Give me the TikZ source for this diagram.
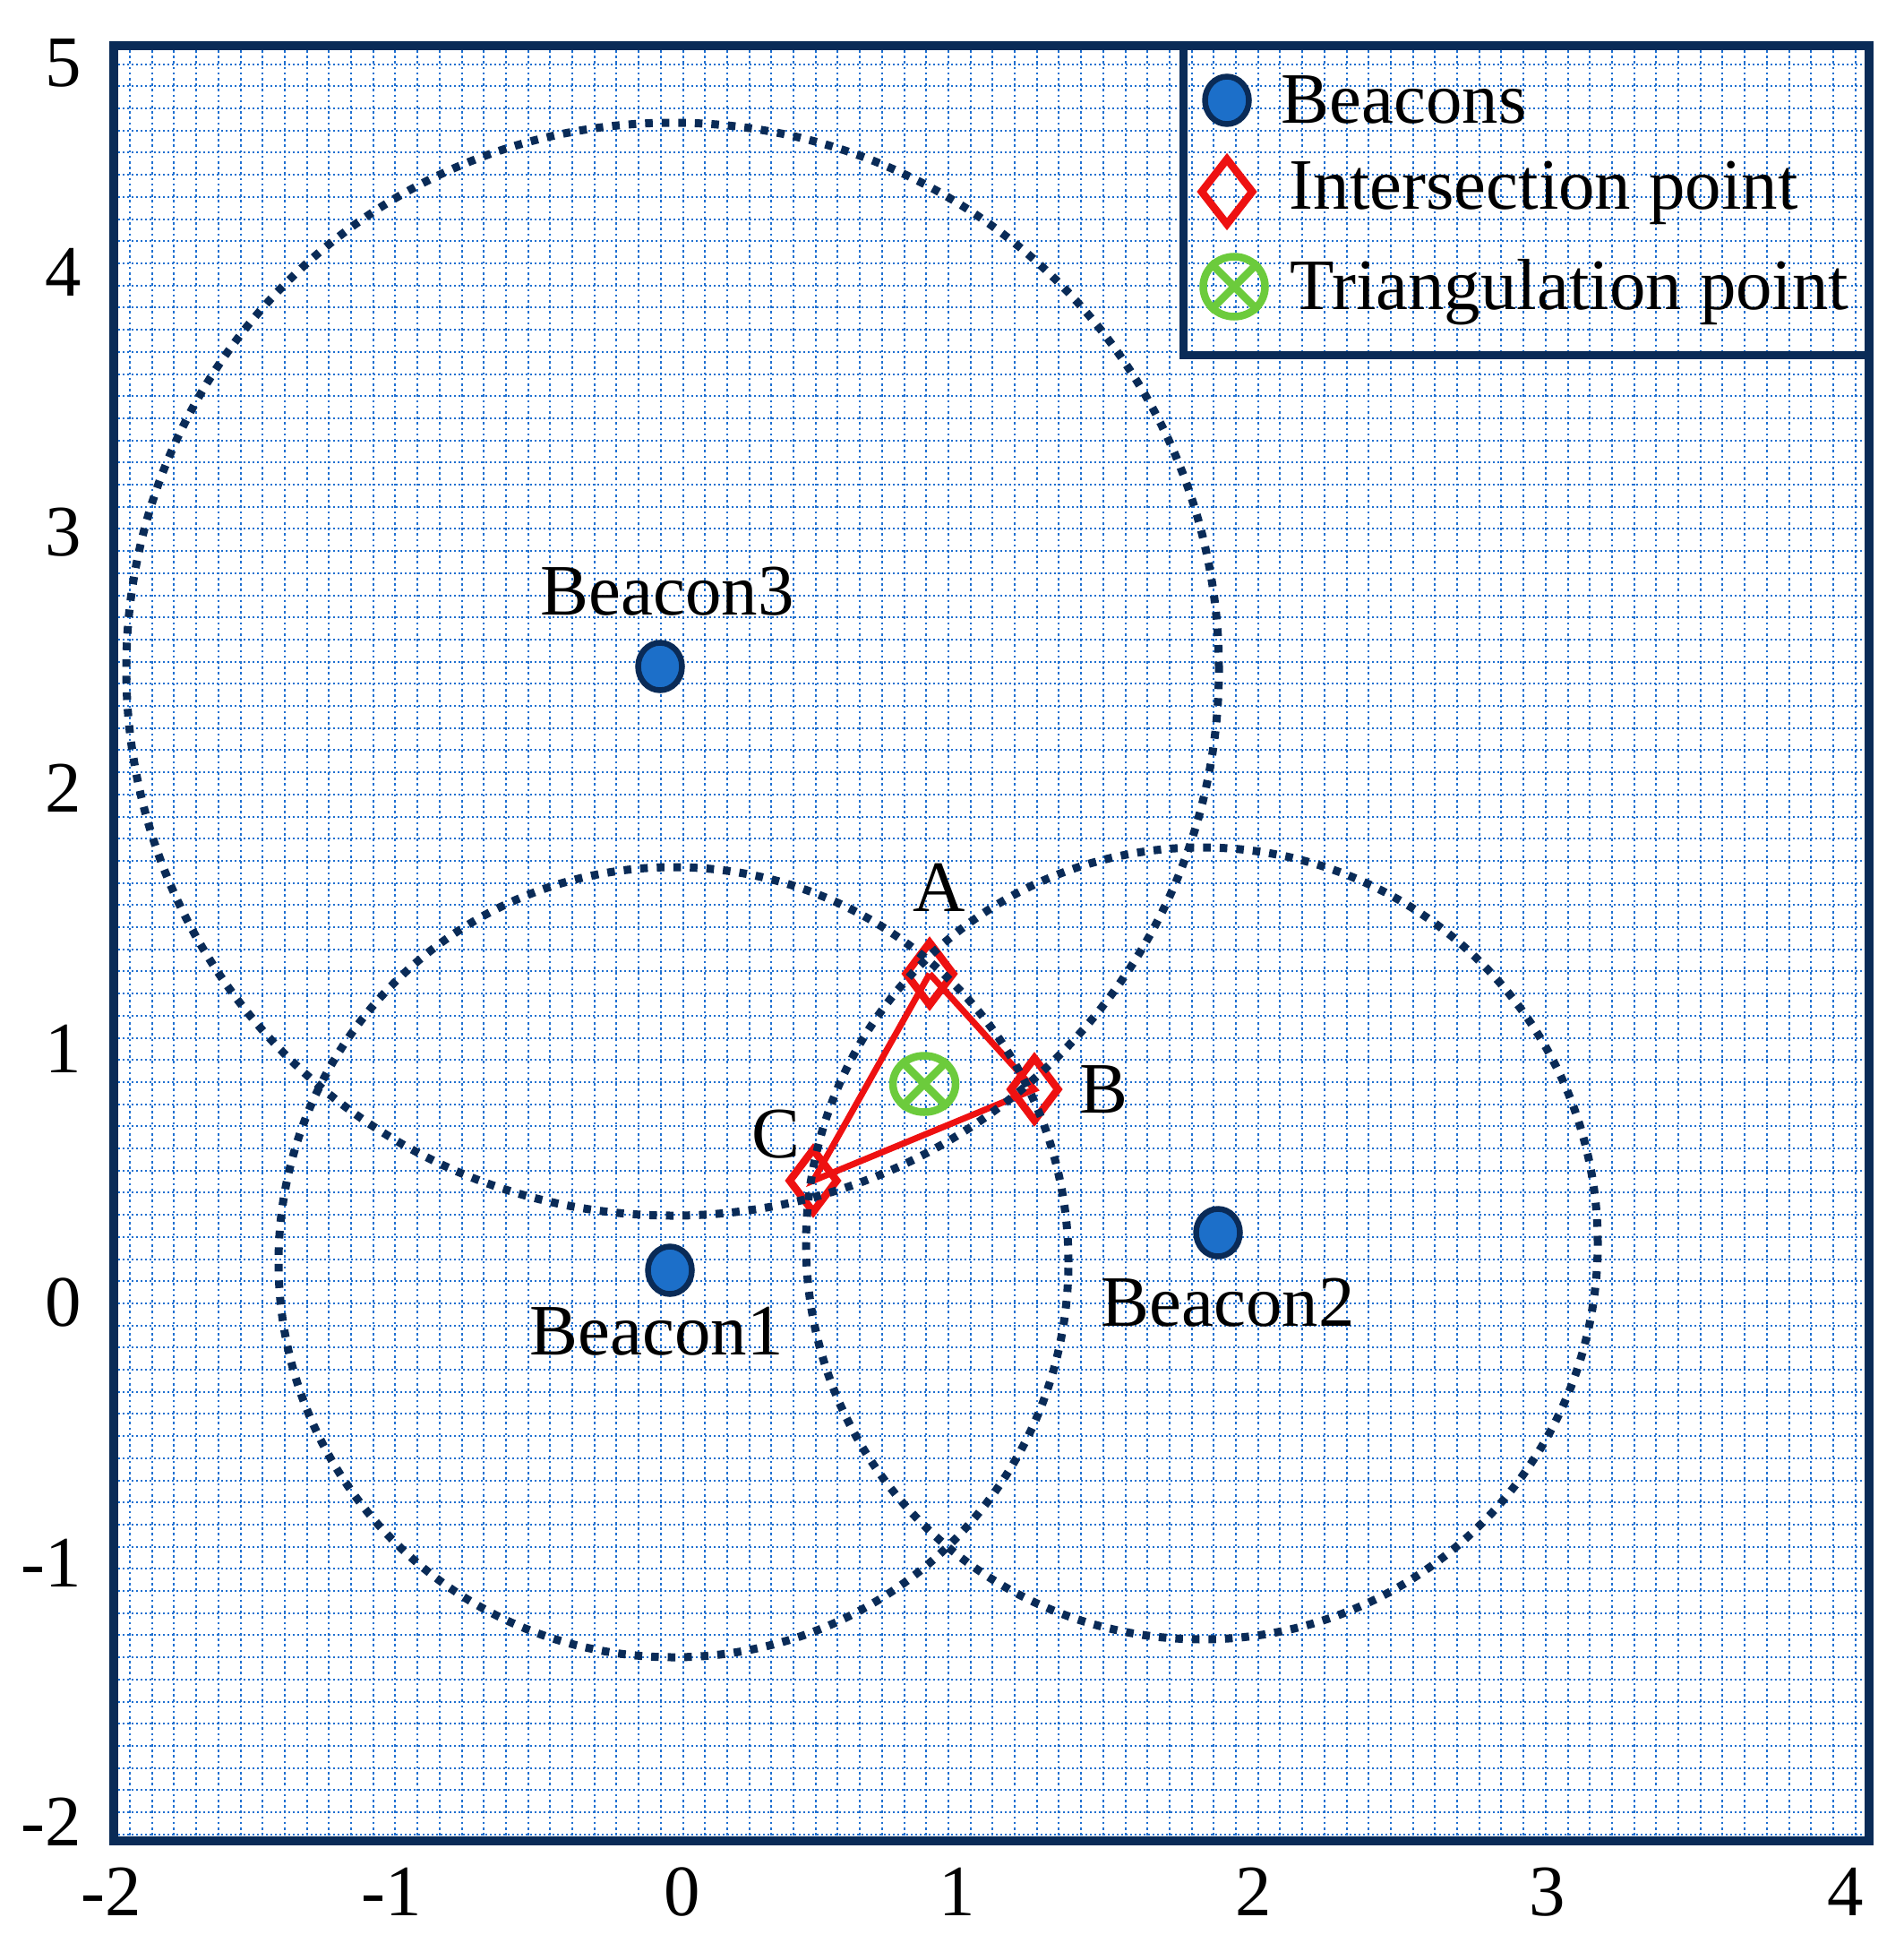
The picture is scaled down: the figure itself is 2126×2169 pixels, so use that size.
\documentclass[tikz,border=0pt]{standalone}
\usepackage{fontspec}
\setmainfont{Liberation Serif}
\usetikzlibrary{shapes.geometric}
\definecolor{navy}{HTML}{0A2B57}
\definecolor{beaconblue}{HTML}{1C6FC9}
\definecolor{ptred}{HTML}{EE1111}
\definecolor{ptgreen}{HTML}{6CCB3C}
\definecolor{gridblue}{HTML}{1E6FD0}
\tikzset{
  gridh/.style={draw=gridblue, line width=0.2mm, dash pattern=on 0.2mm off 0.3mm},
  gridv/.style={draw=gridblue, line width=0.2mm, dash pattern=on 0.26mm off 0.36mm},
  dotcirc/.style={draw=navy, line width=0.9mm, dash pattern=on 0.85mm off 1.0mm},
  beacon/.style={ellipse, draw=navy, fill=beaconblue, line width=0.65mm, minimum width=4.9mm, minimum height=5.3mm, inner sep=0pt},
  intersect/.style={diamond, draw=ptred, line width=0.85mm, minimum width=5.6mm, minimum height=7.3mm, inner sep=0pt},
  trimark/.style={ellipse, draw=ptgreen, line width=0.85mm, minimum width=7.0mm, minimum height=6.3mm, inner sep=0pt},
  triline/.style={draw=ptgreen, line width=0.85mm},
  edge/.style={draw=ptred, line width=0.7mm},
  lbl/.style={inner sep=0pt, anchor=base},
  ylbl/.style={inner sep=0pt, anchor=base east},
  leglbl/.style={inner sep=0pt, anchor=base west}
}
\begin{document}
\begin{tikzpicture}[x=0.1mm, y=-0.1mm, font=\fontsize{23}{27}\selectfont]
\useasboundingbox (0,0) rectangle (2126,2169);
\fill[white] (0,0) rectangle (2126,2169);
% background grid
\begin{scope}
  \clip (132,56) rectangle (2082,2050);
  \foreach \k in {0,...,78} \draw[gridv] ({145+24.7*\k},56) -- ({145+24.7*\k},2050);
  \foreach \k in {0,...,80} \draw[gridh] (132,{71.7+24.7*\k}) -- (2082,{71.7+24.7*\k});
\end{scope}
% intersection points and triangle
\node[intersect] (A) at (1038,1087) {};
\node[intersect] (B) at (1155,1216) {};
\node[intersect] (C) at (908,1318) {};
\draw[edge] (A.center) -- (B.center) -- (C.center) -- (A.center);
% range circles
\coordinate (c1) at (752,1409);
\coordinate (c2) at (1342,1388);
\coordinate (c3) at (751,747);
\draw[dotcirc] (c1) circle[radius=44.1mm];
\draw[dotcirc] (c2) circle[radius=44.2mm];
\draw[dotcirc] (c3) circle[radius=61.0mm];
% beacons
\node[beacon] (b1) at (748,1418) {};
\node[beacon] (b2) at (1360,1376) {};
\node[beacon] (b3) at (737,744) {};
% triangulation point
\node[trimark] (T) at (1032,1210) {};
\draw[triline] (T.45) -- (T.225);
\draw[triline] (T.135) -- (T.315);
% labels
\node[lbl] (lb3) at (745,686) {Beacon3};
\node[lbl] (lb1) at (733,1512) {Beacon1};
\node[lbl] (lb2) at (1371,1480) {Beacon2};
\node[lbl] (lA) at (1049,1017) {A};
\node[lbl] (lB) at (1232,1242) {B};
\node[lbl] (lC) at (866,1292) {C};
% axis labels
\node[lbl] (xm2) at (124,2138) {-2};
\node[lbl] (xm1) at (437,2138) {-1};
\node[lbl] (x0) at (762,2138) {0};
\node[lbl] (x1) at (1069,2138) {1};
\node[lbl] (x2) at (1400,2138) {2};
\node[lbl] (x3) at (1728,2138) {3};
\node[lbl] (x4) at (2061,2138) {4};
\node[ylbl] (y5) at (92,97) {5};
\node[ylbl] (y4) at (92,330) {4};
\node[ylbl] (y3) at (92,620) {3};
\node[ylbl] (y2) at (92,906) {2};
\node[ylbl] (y1) at (92,1197) {1};
\node[ylbl] (y0) at (92,1480) {0};
\node[ylbl] (ym1) at (92,1771) {-1};
\node[ylbl] (ym2) at (92,2060) {-2};
% frame
\draw[navy, line width=1mm] (127,51) rectangle (2087,2055);
% legend
\draw[navy, line width=0.9mm] (1321,51) rectangle (2087,396);
\node[beacon] (lgb) at (1370,112) {};
\node[intersect, minimum width=6.0mm, minimum height=7.6mm] (lgi) at (1370,214) {};
\node[trimark, minimum width=6.9mm, minimum height=6.7mm] (lgt) at (1378,320) {};
\draw[triline] (lgt.45) -- (lgt.225);
\draw[triline] (lgt.135) -- (lgt.315);
\node[leglbl] (lgbt) at (1430,137) {Beacons};
\node[leglbl] (lgit) at (1439,233) {Intersection point};
\node[leglbl] (lgtt) at (1440,345) {Triangulation point};
\end{tikzpicture}
\end{document}
